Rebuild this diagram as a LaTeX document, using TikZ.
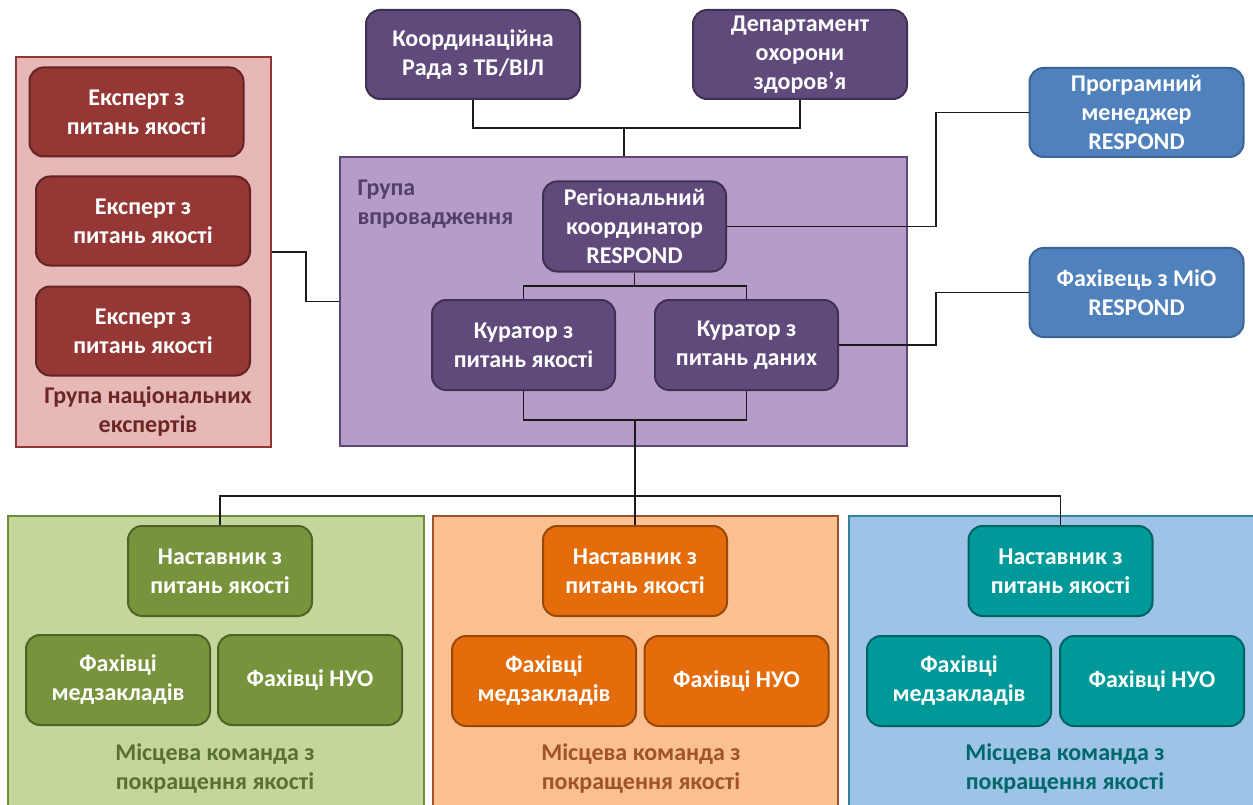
\documentclass[tikz,border=0pt]{standalone}
\usepackage{fontspec}
\setmainfont{Carlito}
\definecolor{redpanel}{HTML}{E6B9B8}
\definecolor{redpanelb}{HTML}{943634}
\definecolor{rednode}{HTML}{953735}
\definecolor{rednodeb}{HTML}{632523}
\definecolor{redtext}{HTML}{6B2624}
\definecolor{purpanel}{HTML}{B59CC9}
\definecolor{purpanelb}{HTML}{5C4777}
\definecolor{purnode}{HTML}{604A7B}
\definecolor{purnodeb}{HTML}{3F3151}
\definecolor{purtext}{HTML}{524066}
\definecolor{bluenode}{HTML}{4F81BD}
\definecolor{bluenodeb}{HTML}{3A6494}
\definecolor{grpanel}{HTML}{C3D69B}
\definecolor{grpanelb}{HTML}{6F8A38}
\definecolor{grnode}{HTML}{77933C}
\definecolor{grnodeb}{HTML}{4F6228}
\definecolor{grtext}{HTML}{5A7030}
\definecolor{orpanel}{HTML}{FAC090}
\definecolor{orpanelb}{HTML}{A0522D}
\definecolor{ornode}{HTML}{E46C0A}
\definecolor{ornodeb}{HTML}{984807}
\definecolor{ortext}{HTML}{A0522D}
\definecolor{tlpanel}{HTML}{9DC3E6}
\definecolor{tlpanelb}{HTML}{31849B}
\definecolor{tlnode}{HTML}{009999}
\definecolor{tlnodeb}{HTML}{006363}
\definecolor{tltext}{HTML}{00686B}
\definecolor{conn}{HTML}{1A1A1A}
\begin{document}
\begin{tikzpicture}[x=1pt,y=-1pt,
  txt/.style={font=\fontsize{24}{29}\selectfont\bfseries, align=center},
  box/.style={txt, rounded corners=14pt, line width=2pt, text=white, inner sep=0pt,
    minimum width=183pt, minimum height=90pt},
  widebox/.style={box, minimum width=214pt, minimum height=89pt},
  purbox/.style={box, fill=purnode, draw=purnodeb},
  redbox/.style={widebox, fill=rednode, draw=rednodeb},
  bluebox/.style={widebox, fill=bluenode, draw=bluenodeb},
  grbox/.style={box, minimum width=184pt, fill=grnode, draw=grnodeb},
  orbox/.style={box, minimum width=184pt, fill=ornode, draw=ornodeb},
  tlbox/.style={box, minimum width=184pt, fill=tlnode, draw=tlnodeb},
  panel/.style={line width=2pt, inner sep=0pt},
  link/.style={draw=conn, line width=1.6pt}]
\useasboundingbox (0,0) rectangle (1253,805);
\fill[white] (0,0) rectangle (1253,805);

% panels
\node[panel, fill=redpanel, draw=redpanelb, minimum width=255pt, minimum height=390pt] (redp) at (143.5,252) {};
\node[panel, fill=purpanel, draw=purpanelb, minimum width=567pt, minimum height=289pt] (pp) at (623.5,301.5) {};
\node[panel, fill=grpanel, draw=grpanelb, minimum width=416pt, minimum height=300pt] (gp) at (216,666) {};
\node[panel, fill=orpanel, draw=orpanelb, minimum width=405pt, minimum height=300pt] (op) at (635.5,666) {};
\node[panel, fill=tlpanel, draw=tlpanelb, minimum width=410pt, minimum height=300pt] (tp) at (1054,666) {};

% panel labels
\node[txt, text=redtext] (redl) at (148,411) {Група національних\\експертів};
\node[txt, text=purtext, align=left, anchor=north west] (purl) at (354,176) {Група\\впровадження};
\node[txt, text=grtext] (grl) at (215,769) {Місцева команда з\\покращення якості};
\node[txt, text=ortext] (orl) at (641,769) {Місцева команда з\\покращення якості};
\node[txt, text=tltext] (tll) at (1065,769) {Місцева команда з\\покращення якості};

% top nodes
\node[widebox, fill=purnode, draw=purnodeb] (kr) at (473,54.5) {Координаційна\\Рада з ТБ/ВІЛ};
\node[widebox, fill=purnode, draw=purnodeb] (dep) at (800,54.5) {Департамент\\охорони\\здоров’я};
\node[bluebox] (pm) at (1136.5,112.5) {Програмний\\менеджер\\RESPOND};
\node[bluebox] (mio) at (1136.5,292.5) {Фахівець з МіО\\RESPOND};

% experts
\node[redbox] (e1) at (136.5,112) {Експерт з\\питань якості};
\node[redbox] (e2) at (143,221) {Експерт з\\питань якості};
\node[redbox] (e3) at (143,331) {Експерт з\\питань якості};

% implementation group
\node[purbox] (rc) at (634.5,226.5) {Регіональний\\координатор\\RESPOND};
\node[purbox] (cq) at (523.5,345) {Куратор з\\питань якості};
\node[purbox] (cd) at (746.5,345) {Куратор з\\питань даних};

% local teams
\node[grbox] (gn) at (220,571) {Наставник з\\питань якості};
\node[grbox] (gm) at (118,680) {Фахівці\\медзакладів};
\node[grbox] (gu) at (310,680) {Фахівці НУО};
\node[orbox] (on) at (635,571) {Наставник з\\питань якості};
\node[orbox] (om) at (544,681) {Фахівці\\медзакладів};
\node[orbox] (ou) at (736.5,681) {Фахівці НУО};
\node[tlbox] (tn) at (1060.5,571) {Наставник з\\питань якості};
\node[tlbox] (tm) at (959,681) {Фахівці\\медзакладів};
\node[tlbox] (tu) at (1152,681) {Фахівці НУО};

% connectors
\coordinate (topj) at (624,128);
\draw[link] (kr.south) |- (topj) -| (dep.south);
\draw[link] (topj) -- (topj |- pp.north);
\draw[link] (redp.east) -- ++(34,0) |- (pp.west);
\draw[link] (rc.east) -- ++(209,0) |- (pm.west);
\draw[link] (cd.east) -- ++(97,0) |- (mio.west);
\coordinate (rcj) at (634.5,286);
\draw[link] (rc.south) -- (rcj);
\draw[link] (cq.north) |- (rcj) -| (cd.north);
\coordinate (bj) at (635,420);
\draw[link] (cq.south) |- (bj) -| (cd.south);
\draw[link] (bj) -- (on.north);
\coordinate (hj) at (635,496);
\draw[link] (gn.north) |- (hj) -| (tn.north);
\end{tikzpicture}
\end{document}
